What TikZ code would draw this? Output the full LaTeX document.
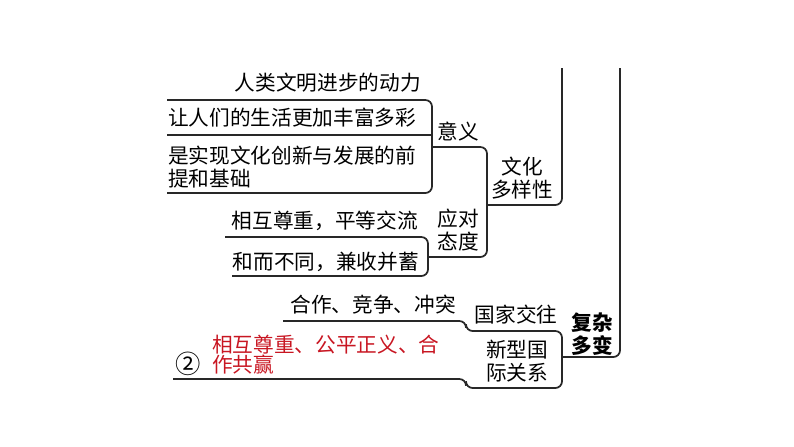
\documentclass[tikz,border=0pt]{standalone}
\usepackage{fontspec}
\newfontfamily\cjk{Noto Sans CJK SC}
\usetikzlibrary{positioning}
\definecolor{mapred}{RGB}{200,22,34}
\definecolor{mapline}{RGB}{40,40,40}

\begin{document}
\begin{tikzpicture}[
    x=0.75pt, y=-0.75pt,
    txt/.style={inner sep=0pt, align=left, font=\cjk\fontsize{15.5}{16.8}\selectfont},
    ctxt/.style={txt, align=center},
    key/.style={ctxt, font=\cjk\bfseries\fontsize{15.5}{16.8}\selectfont},
    brk/.style={draw=mapline, line width=1.3pt, rounded corners=5pt}
  ]
    \useasboundingbox (0,0) rectangle (794,447);

    % leaves
    \node[txt, anchor=east] (dongli) at (421,83) {人类文明进步的动力};
    \node[txt, anchor=west] (fengfu) at (168,118) {让人们的生活更加丰富多彩};
    \node[txt, anchor=north west] (qianti) at (168,146) {是实现文化创新与发展的前\\提和基础};
    \node[txt, anchor=east] (zunzhong) at (418,221) {相互尊重，平等交流};
    \node[txt, anchor=east] (jianshou) at (419,262) {和而不同，兼收并蓄};
    \node[txt, anchor=east] (hezuo) at (456,305) {合作、竞争、冲突};
    \node[ctxt, font=\cjk\fontsize{19}{19}\selectfont] (quan) at (188,364) {②};
    \node[txt, text=mapred, anchor=north west,
          font=\cjk\fontsize{15.5}{15.2}\selectfont] (gongying) at (212,335) {相互尊重、公平正义、合\\作共赢};

    % branches
    \node[ctxt] (yiyi) at (458,132) {意义};
    \node[ctxt] (yingdui) at (458,230) {应对\\态度};
    \node[ctxt] (duoyang) at (522,178) {文化\\多样性};
    \node[ctxt] (jiaowang) at (516,315) {国家交往};
    \node[ctxt] (guanxi) at (517,361) {新型国\\际关系};
    \node[key] (fuza) at (592,334) {复杂\\多变};

    % brackets
    \coordinate (b1) at (432,147);
    \coordinate (b2) at (487,205);
    \coordinate (b3) at (562,357);
    \draw[brk] (167,100) -- (432,100) -- (432,193) -- (167,193);
    \draw[brk, rounded corners=0pt] (167,135) -- (432,135);
    \draw[brk] (225,237) -- (428,237) -- (428,276) -- (232,276);
    \draw[brk] (b1) -- (487,147) -- (487,257) -- (428,257);
    \draw[brk] (b2) -- (562,205) -- (562,68);
    \draw[brk] (283,321) -- (466,321) -- (466,331) -- (562,331)
        -- (562,388) -- (466,388) -- (466,379) -- (173,379);
    \draw[brk] (b3) -- (620,357) -- (620,68);
  \end{tikzpicture}
\end{document}
